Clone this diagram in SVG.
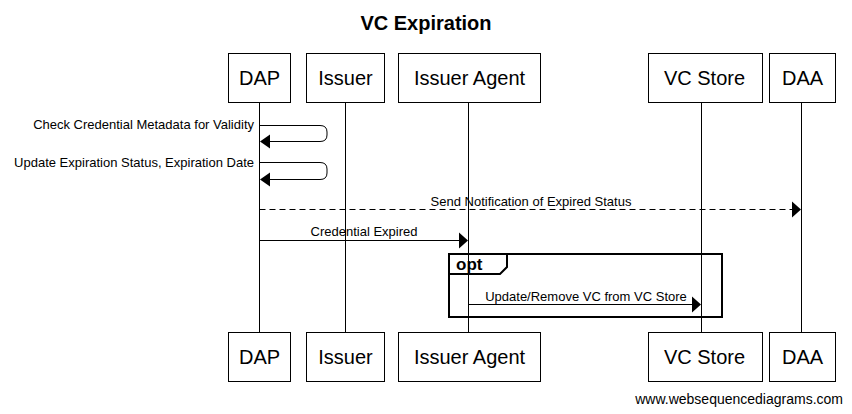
<svg xmlns="http://www.w3.org/2000/svg" width="852" height="414" viewBox="0 0 852 414">
<defs>
<style>
text{font-family:"Liberation Sans",Arial,sans-serif;fill:#000}
.title{font-size:20px;font-weight:bold;text-anchor:middle}
.pname{font-size:20px;text-anchor:middle}
.box{fill:#fff;stroke:#000;stroke-width:1}
.life{stroke:#000;stroke-width:1;fill:none}
.msg{stroke:#000;stroke-width:1;fill:none}
.dash{stroke-dasharray:6,4}
.lbl{font-size:13px}
.mid{text-anchor:middle}
.end{text-anchor:end}
.frame{fill:none;stroke:#000;stroke-width:2}
.opt{font-size:17px;font-weight:bold}
.wm{font-size:14px;text-anchor:end}
.arr{fill:#000}
</style>
</defs>
<rect width="852" height="414" fill="#fff"/>
<text class="title" x="426" y="30">VC Expiration</text>

<g id="lifelines">
<line class="life" x1="259.5" y1="102" x2="259.5" y2="332"/>
<line class="life" x1="345.5" y1="102" x2="345.5" y2="332"/>
<line class="life" x1="468.5" y1="102" x2="468.5" y2="332"/>
<line class="life" x1="701.5" y1="102" x2="701.5" y2="332"/>
<line class="life" x1="801.5" y1="102" x2="801.5" y2="332"/>
</g>

<g id="DAP">
<rect class="box" x="228.5" y="53.5" width="62" height="49"/>
<text class="pname" x="259.5" y="85">DAP</text>
<rect class="box" x="228.5" y="332.5" width="62" height="49"/>
<text class="pname" x="259.5" y="364">DAP</text>
</g>
<g id="Issuer">
<rect class="box" x="306.5" y="53.5" width="78" height="49"/>
<text class="pname" x="345.5" y="85">Issuer</text>
<rect class="box" x="306.5" y="332.5" width="78" height="49"/>
<text class="pname" x="345.5" y="364">Issuer</text>
</g>
<g id="IssuerAgent">
<rect class="box" x="398.5" y="53.5" width="142" height="49"/>
<text class="pname" x="469.5" y="85">Issuer Agent</text>
<rect class="box" x="398.5" y="332.5" width="142" height="49"/>
<text class="pname" x="469.5" y="364">Issuer Agent</text>
</g>
<g id="VCStore">
<rect class="box" x="648.5" y="53.5" width="114" height="49"/>
<text class="pname" x="704.5" y="85">VC Store</text>
<rect class="box" x="648.5" y="332.5" width="114" height="49"/>
<text class="pname" x="704.5" y="364">VC Store</text>
</g>
<g id="DAA">
<rect class="box" x="769.5" y="53.5" width="66" height="49"/>
<text class="pname" x="802.5" y="85">DAA</text>
<rect class="box" x="769.5" y="332.5" width="66" height="49"/>
<text class="pname" x="802.5" y="364">DAA</text>
</g>

<g id="opt-frame">
<rect class="frame" x="449" y="254" width="273" height="63"/>
<path class="frame" d="M449,274 H500 L507,267 V254"/>
<text class="opt" x="456" y="270">opt</text>
</g>

<g id="connectors">
<path class="msg" d="M259.5,125.5 H320 Q327,125.5 327,132 V135 Q327,141.5 320,141.5 H268"/>
<polygon class="arr" points="260,141.5 270,134.5 270,148.5"/>
<text class="lbl end" x="254" y="129">Check Credential Metadata for Validity</text>

<path class="msg" d="M259.5,162.5 H320 Q327,162.5 327,169 V173 Q327,179.5 320,179.5 H268"/>
<polygon class="arr" points="260,179.5 270,172.5 270,186.5"/>
<text class="lbl end" x="254" y="167">Update Expiration Status, Expiration Date</text>

<line class="msg dash" x1="259.5" y1="209.5" x2="792" y2="209.5"/>
<polygon class="arr" points="801,209.5 792,201.5 792,217.5"/>
<text class="lbl mid" x="531" y="206">Send Notification of Expired Status</text>

<line class="msg" x1="259.5" y1="240.5" x2="460" y2="240.5"/>
<polygon class="arr" points="468,240.5 459,232.5 459,248.5"/>
<text class="lbl mid" x="364" y="236">Credential Expired</text>

<line class="msg" x1="468.5" y1="304.5" x2="693" y2="304.5"/>
<polygon class="arr" points="701,304.5 692,296.5 692,312.5"/>
<text class="lbl mid" x="586" y="301">Update/Remove VC from VC Store</text>
</g>

<text class="wm" x="843" y="404">www.websequencediagrams.com</text>
</svg>
